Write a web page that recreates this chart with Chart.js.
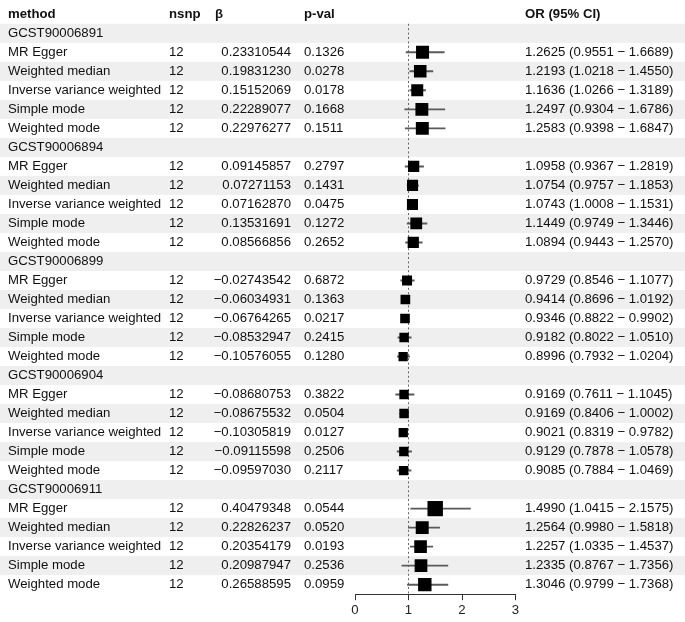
<!DOCTYPE html>
<html>
<head>
<meta charset="utf-8">
<script src="https://cdn.jsdelivr.net/npm/chart.js@4"></script>
<style>
  html, body { margin: 0; padding: 0; background: #ffffff; }
  #wrap { width: 685px; height: 622px; }
</style>
</head>
<body>
<div id="wrap"><canvas id="c" width="685" height="622"></canvas></div>
<script>
// ---------- data ----------
const groups = ['GCST90006891', 'GCST90006894', 'GCST90006899', 'GCST90006904', 'GCST90006911'];
const methods = ['MR Egger', 'Weighted median', 'Inverse variance weighted', 'Simple mode', 'Weighted mode'];
const nsnp = [
  [12, 12, 12, 12, 12], [12, 12, 12, 12, 12], [12, 12, 12, 12, 12], [12, 12, 12, 12, 12], [12, 12, 12, 12, 12]
];
const beta = [
  [0.23310544, 0.19831230, 0.15152069, 0.22289077, 0.22976277],
  [0.09145857, 0.07271153, 0.07162870, 0.13531691, 0.08566856],
  [-0.02743542, -0.06034931, -0.06764265, -0.08532947, -0.10576055],
  [-0.08680753, -0.08675532, -0.10305819, -0.09115598, -0.09597030],
  [0.40479348, 0.22826237, 0.20354179, 0.20987947, 0.26588595]
];
const pval = [
  [0.1326, 0.0278, 0.0178, 0.1668, 0.1511],
  [0.2797, 0.1431, 0.0475, 0.1272, 0.2652],
  [0.6872, 0.1363, 0.0217, 0.2415, 0.1280],
  [0.3822, 0.0504, 0.0127, 0.2506, 0.2117],
  [0.0544, 0.0520, 0.0193, 0.2536, 0.0959]
];
const orVal = [
  [1.2625, 1.2193, 1.1636, 1.2497, 1.2583],
  [1.0958, 1.0754, 1.0743, 1.1449, 1.0894],
  [0.9729, 0.9414, 0.9346, 0.9182, 0.8996],
  [0.9169, 0.9169, 0.9021, 0.9129, 0.9085],
  [1.4990, 1.2564, 1.2257, 1.2335, 1.3046]
];
const orLow = [
  [0.9551, 1.0218, 1.0266, 0.9304, 0.9398],
  [0.9367, 0.9757, 1.0008, 0.9749, 0.9443],
  [0.8546, 0.8696, 0.8822, 0.8022, 0.7932],
  [0.7611, 0.8406, 0.8319, 0.7878, 0.7884],
  [1.0415, 0.9980, 1.0335, 0.8767, 0.9799]
];
const orHigh = [
  [1.6689, 1.4550, 1.3189, 1.6786, 1.6847],
  [1.2819, 1.1853, 1.1531, 1.3446, 1.2570],
  [1.1077, 1.0192, 0.9902, 1.0510, 1.0204],
  [1.1045, 1.0002, 0.9782, 1.0578, 1.0469],
  [2.1575, 1.5818, 1.4537, 1.7356, 1.7368]
];
const headers = ['method', 'nsnp', 'β', 'p-val', 'OR (95% CI)'];
const xTicks = [0, 1, 2, 3];
const refValue = 1;

// ---------- build rows ----------
const MINUS = '\u2212';
function fmt(v, d) { const s = Math.abs(v).toFixed(d); return (v < 0 ? MINUS : '') + s; }

const rows = []; // index 0 = header
rows.push({ type: 'header' });
const ciData = [];
const ptData = [];
groups.forEach((g, gi) => {
  rows.push({ type: 'group', label: g });
  methods.forEach((m, mi) => {
    const r = rows.length;
    rows.push({
      type: 'item', label: m, nsnp: String(nsnp[gi][mi]),
      beta: fmt(beta[gi][mi], 8), p: pval[gi][mi].toFixed(4),
      or: orVal[gi][mi].toFixed(4) + ' (' + orLow[gi][mi].toFixed(4) + ' ' + MINUS + ' ' + orHigh[gi][mi].toFixed(4) + ')'
    });
    ciData.push({ x: [orLow[gi][mi], orHigh[gi][mi]], y: r });
    ptData.push({ x: orVal[gi][mi], y: r });
  });
});
const nRows = rows.length;

const FONT = '"Liberation Sans", Arial, Helvetica, sans-serif';
const FS = 13.2;
const colX = { method: 8, nsnp: 169, betaHead: 215, betaRight: 291, p: 304, or: 525 };

const tablePlugin = {
  id: 'tablePlugin',
  beforeDraw(chart) {
    const ctx = chart.ctx, y = chart.scales.y;
    ctx.save();
    ctx.fillStyle = '#ffffff';
    ctx.fillRect(0, 0, chart.width, chart.height);
    ctx.fillStyle = '#efefef';
    for (let i = 1; i < nRows; i += 2) {
      const top = y.getPixelForValue(i - 0.5), bot = y.getPixelForValue(i + 0.5);
      ctx.fillRect(0, top, chart.width, bot - top);
    }
    ctx.restore();
  },
  afterDraw(chart) {
    const ctx = chart.ctx, y = chart.scales.y;
    ctx.save();
    ctx.textBaseline = 'middle';
    ctx.fillStyle = '#111111';
    rows.forEach((row, i) => {
      const py = y.getPixelForValue(i);
      if (row.type === 'header') {
        ctx.font = 'bold ' + FS + 'px ' + FONT;
        ctx.textAlign = 'left';
        ctx.fillText(headers[0], colX.method, py);
        ctx.fillText(headers[1], colX.nsnp, py);
        ctx.fillText(headers[2], colX.betaHead, py);
        ctx.fillText(headers[3], colX.p, py);
        ctx.fillText(headers[4], colX.or, py);
      } else if (row.type === 'group') {
        ctx.font = FS + 'px ' + FONT;
        ctx.textAlign = 'left';
        ctx.fillText(row.label, colX.method, py);
      } else {
        ctx.font = FS + 'px ' + FONT;
        ctx.textAlign = 'left';
        ctx.fillText(row.label, colX.method, py);
        ctx.fillText(row.nsnp, colX.nsnp, py);
        ctx.fillText(row.p, colX.p, py);
        ctx.fillText(row.or, colX.or, py);
        ctx.textAlign = 'right';
        ctx.fillText(row.beta, colX.betaRight, py);
      }
    });
    ctx.restore();
  }
};

new Chart(document.getElementById('c'), {
  type: 'scatter',
  data: {
    datasets: [
      {
        type: 'line',
        data: [{ x: refValue, y: 0.5 }, { x: refValue, y: nRows - 0.5 }],
        borderColor: '#666666', borderWidth: 1, borderDash: [2, 2.4],
        pointRadius: 0, order: 3
      },
      {
        type: 'bar', indexAxis: 'y',
        data: ciData,
        backgroundColor: '#5a5a5a', borderWidth: 0,
        barThickness: 1.3, order: 2
      },
      {
        type: 'scatter',
        data: ptData,
        pointStyle: 'rect',
        pointRadius: ctx => (10.3 * ctx.raw.x) / 1.4142,
        pointBackgroundColor: '#000000',
        pointBorderWidth: 0,
        order: 1
      }
    ]
  },
  options: {
    responsive: false,
    animation: false,
    events: [],
    layout: { autoPadding: false, padding: { left: 355, right: 169.5, top: 4.8, bottom: 2 } },
    plugins: { legend: { display: false }, tooltip: { enabled: false } },
    scales: {
      x: {
        type: 'linear', min: 0, max: 3, offset: false, beginAtZero: false,
        afterBuildTicks: s => { s.ticks = xTicks.map(v => ({ value: v })); },
        ticks: { color: '#222222', font: { family: FONT, size: FS }, padding: 2 },
        grid: { display: true, drawOnChartArea: false, drawTicks: true, tickLength: 6, color: '#333333', offset: false },
        border: { display: true, color: '#333333', width: 1 }
      },
      y: {
        type: 'linear', min: -0.5, max: nRows - 0.5, reverse: true, display: false,
        offset: false, grid: { offset: false }
      }
    }
  },
  plugins: [tablePlugin]
});
</script>
</body>
</html>
